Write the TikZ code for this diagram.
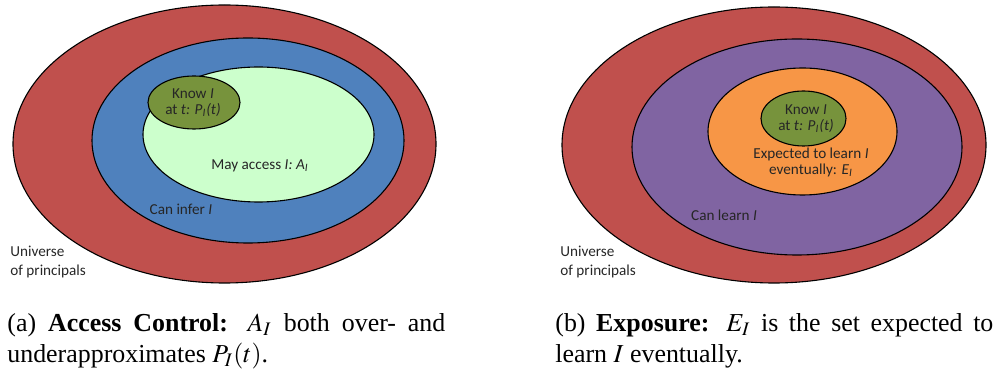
\documentclass[tikz,border=0pt]{standalone}
\usepackage{mathptmx}
\usepackage{fontspec}
\setmainfont{Liberation Serif}
\newfontfamily\carlitofont{Carlito}
\usetikzlibrary{shapes.geometric}
\definecolor{ored}{HTML}{C0504D}
\definecolor{oblue}{HTML}{4F81BD}
\definecolor{ogreenl}{HTML}{CCFFCC}
\definecolor{oolive}{HTML}{77933C}
\definecolor{opurple}{HTML}{8064A2}
\definecolor{oorange}{HTML}{F79646}
\tikzset{
  setell/.style={ellipse, draw=black, line width=0.55pt, inner sep=0pt},
  lbl/.style={font=\carlitofont\fontsize{7.6}{9}\selectfont, text=black!85, align=center, inner sep=0pt},
  captext/.style={font=\fontsize{12.95}{15.5}\selectfont, text width=219pt, align=justify, anchor=base west, inner sep=0pt}
}
\newcommand{\iI}{\textit{I}}
\begin{document}
\begin{tikzpicture}[x=0.5pt,y=-0.5pt]
\useasboundingbox (0,0) rectangle (996,373);
% left panel
\node[setell, fill=ored, minimum width=211.5pt, minimum height=139pt] (uA) at (224.5,144) {};
\node[setell, fill=oblue, minimum width=156pt, minimum height=102.5pt] (ci) at (248,140.5) {};
\node[setell, fill=ogreenl, minimum width=115.5pt, minimum height=67.5pt] (ma) at (258.5,134.5) {};
\node[setell, fill=oolive, minimum width=46pt, minimum height=26.5pt] (kA) at (194,102.5) {};
\node[lbl] (kAt) at (193,102.5) {Know \iI\\[-1pt]at \textit{t: P\textsubscript{I}(t)}};
\node[lbl] (maT) at (260,166) {May access \textit{I: A\textsubscript{I}}};
\node[lbl] (ciT) at (181,209) {Can infer \iI};
\node[lbl, align=left, anchor=west] (uAT) at (10,261.5) {Universe\\[0.5pt]of principals};
% right panel
\node[setell, fill=ored, minimum width=212pt, minimum height=138pt] (uB) at (774,145) {};
\node[setell, fill=opurple, minimum width=165pt, minimum height=108pt] (cl) at (797,147) {};
\node[setell, fill=oorange, minimum width=94.5pt, minimum height=63.5pt] (ex) at (802.5,131.5) {};
\node[setell, fill=oolive, minimum width=42.5pt, minimum height=27.5pt] (kB) at (803.5,118.5) {};
\node[lbl] (kBt) at (806,118.5) {Know \iI\\[-1pt]at \textit{t: P\textsubscript{I}(t)}};
\node[lbl] (exT) at (811,162.5) {Expected to learn \iI\\[-1pt]eventually: \textit{E\textsubscript{I}}};
\node[lbl] (clT) at (724,215) {Can learn \iI};
\node[lbl, align=left, anchor=west] (uBT) at (560,261.5) {Universe\\[0.5pt]of principals};
% captions
\node[captext] (capA) at (7,332) {(a) \textbf{Access Control:} $A_I$ both over- and\linebreak underapproximates $P_I(t)$.};
\node[captext] (capB) at (555,332) {(b) \textbf{Exposure:} $E_I$ is the set expected to\linebreak learn $I$ eventually.};
\end{tikzpicture}
\end{document}
